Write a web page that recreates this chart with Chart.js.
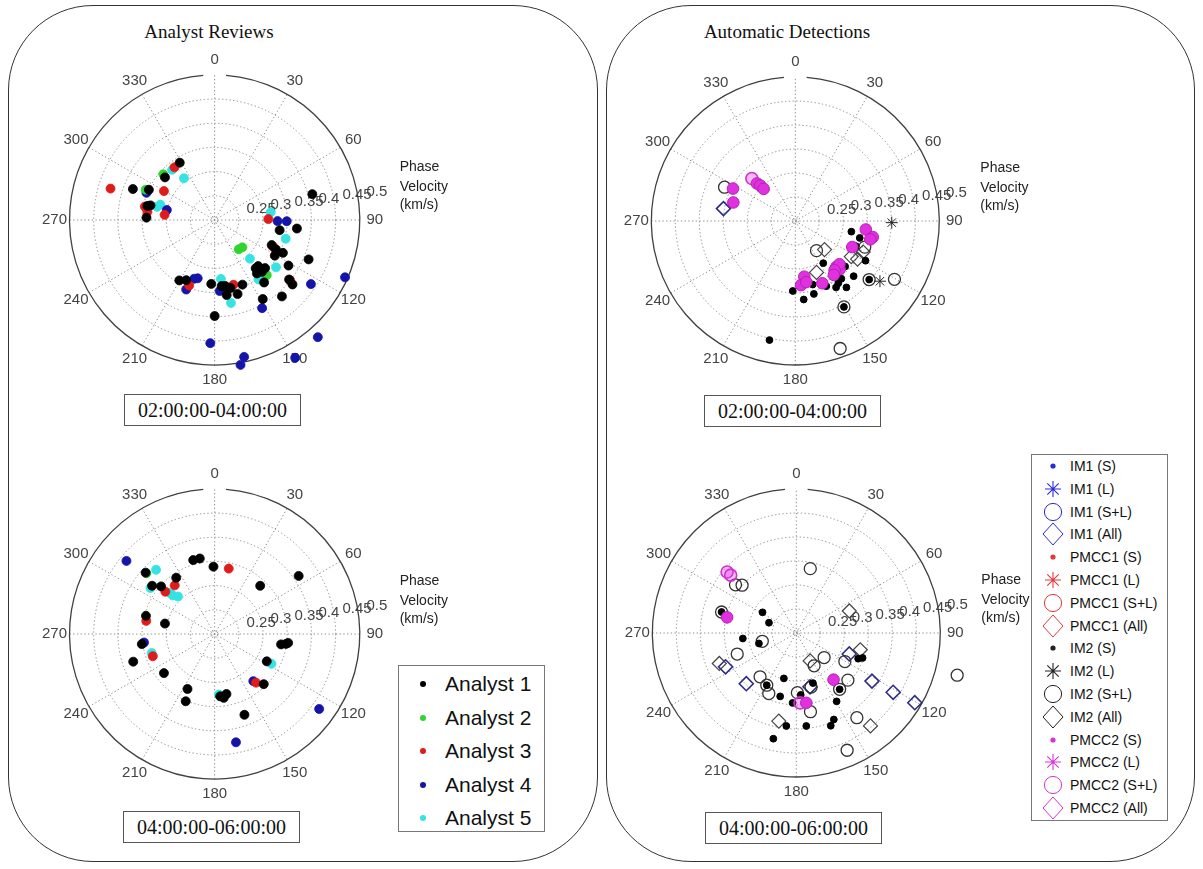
<!DOCTYPE html>
<html><head><meta charset="utf-8">
<script src="https://cdn.jsdelivr.net/npm/chart.js@4.4.1/dist/chart.umd.min.js"></script>
<style>
html,body{margin:0;padding:0;background:#fff;width:1203px;height:869px;overflow:hidden;position:relative;font-family:"Liberation Sans",Arial,sans-serif;}
.panel{position:absolute;border:1.5px solid #333;border-radius:85px;box-sizing:border-box;}
.title{position:absolute;font-family:"Liberation Serif","Times New Roman",serif;font-size:19px;color:#111;transform:translate(-50%,-50%);white-space:nowrap;}
.tbox{position:absolute;z-index:5;border:1.3px solid #555;background:#fff;font-family:"Liberation Serif","Times New Roman",serif;font-size:20px;text-align:center;box-sizing:border-box;color:#111;}
canvas{position:absolute;}
.legend{position:absolute;z-index:5;border:1.3px solid #777;background:#fff;box-sizing:border-box;}
.row{position:absolute;left:0;white-space:nowrap;}
.row svg{position:absolute;}
.row span{position:absolute;transform:translateY(-50%);color:#111;}
</style></head>
<body>
<div class="panel" style="left:8px;top:5px;width:590px;height:857px;"></div>
<div class="panel" style="left:606px;top:5px;width:589px;height:857px;"></div>
<div class="title" style="left:209px;top:32px;">Analyst Reviews</div>
<div class="title" style="left:787px;top:32px;">Automatic Detections</div>
<script>
// ---------------- data: [azimuth (deg), phase velocity (km/s)] ----------------
const V0 = 0.2, VMAX = 0.5;
const RING_VALUES = [0.25, 0.3, 0.35, 0.4, 0.45, 0.5];
const RING_LABELS = ['0.25', '0.3', '0.35', '0.4', '0.45', '0.5'];
const ANGLE_TICKS = [0, 30, 60, 90, 120, 150, 180, 210, 240, 270, 300, 330];
const AXIS_TITLE = ['Phase', 'Velocity', '(km/s)'];
const TIME_WINDOWS = ['02:00:00-04:00:00', '04:00:00-06:00:00'];
const ANALYSTS = ['Analyst 1', 'Analyst 2', 'Analyst 3', 'Analyst 4', 'Analyst 5'];
const ANALYST_COLORS = ['#000000', '#2fd42f', '#e01b1b', '#1414a8', '#35e3e3'];

// Analyst reviews, 02:00-04:00
const tl_a1 = [[329,0.340],[311,0.336],[291,0.381],[295,0.350],[282,0.342],[283,0.336],[272,0.341],[75,0.409],[99,0.336],[96,0.371],[114,0.329],[116,0.341],[121,0.345],[116,0.357],[113,0.411],[140,0.332],[137,0.332],[138,0.346],[142,0.342],[134,0.345],[122,0.380],[142,0.366],[129,0.398],[130,0.410],[139,0.412],[149,0.393],[210,0.346],[205,0.339],[183,0.334],[174,0.339],[171,0.340],[167,0.346],[157,0.347],[171,0.359],[163,0.362],[180,0.401]];
const tl_a2 = [[312,0.343],[294,0.356],[141,0.279],[135,0.281],[137,0.358]];
const tl_a3 = [[323,0.338],[287,0.425],[300,0.321],[281,0.347],[277,0.340],[276,0.304],[89,0.311],[115,0.334],[129,0.401],[201,0.347],[164,0.341]];
const tl_a4 = [[292,0.352],[282,0.301],[91,0.330],[91,0.349],[124,0.440],[114,0.495],[152,0.409],[199,0.330],[196,0.327],[202,0.357],[176,0.349],[182,0.458],[168,0.493],[170,0.508],[150,0.533],[139,0.525]];
const tl_a5 = [[320,0.337],[324,0.308],[286,0.317],[283,0.322],[82,0.317],[105,0.352],[138,0.309],[128,0.361],[144,0.354],[174,0.324],[169,0.377]];

// Analyst reviews, 04:00-06:00
const bl_a1 = [[312,0.392],[326,0.342],[308,0.364],[312,0.349],[344,0.361],[349,0.361],[359,0.341],[55,0.412],[43,0.338],[285,0.347],[282,0.305],[262,0.352],[251,0.378],[232,0.333],[99,0.339],[98,0.349],[97,0.353],[118,0.322],[136,0.346],[206,0.328],[203,0.353],[175,0.331],[172,0.335],[169,0.328],[160,0.380]];
const bl_a2 = [[312,0.390]];
const bl_a3 = [[321,0.331],[311,0.335],[12,0.340],[281,0.344],[250,0.336],[140,0.333]];
const bl_a4 = [[310,0.438],[263,0.347],[141,0.327],[126,0.467],[169,0.431]];
const bl_a5 = [[318,0.381],[306,0.364],[313,0.318],[316,0.309],[313,0.326],[253,0.336],[118,0.333],[176,0.327]];

// Automatic detections, 02:00-04:00
const tr_im2_s   = [[101,0.319],[105,0.339],[120,0.369],[147,0.307],[133,0.342],[134,0.369],[146,0.360],[143,0.377],[149,0.365],[165,0.340],[182,0.349],[174,0.368],[166,0.360],[155,0.353],[129,0.398],[151,0.409],[192,0.459],[113,0.337],[142,0.356]];
const tr_im2_sl  = [[296,0.364],[145,0.277],[129,0.398],[121,0.441],[151,0.409],[161,0.487],[111,0.355]];
const tr_im2_all = [[115,0.356],[135,0.286],[158,0.318],[123,0.339],[122,0.353]];
const tr_im2_l   = [[91,0.401],[126,0.418]];
const tr_im1_all = [[280,0.352]];
const tr_pm2_s   = [[298,0.347],[287,0.335],[315,0.313],[316,0.305],[316,0.295],[97,0.348],[102,0.365],[115,0.331],[139,0.330],[138,0.338],[135,0.330],[142,0.333],[145,0.340],[171,0.320],[175,0.337],[157,0.344],[104,0.361],[170,0.332]];
const tr_pm2_sl  = [[315,0.328]];

// Automatic detections, 04:00-06:00
const br_im2_s   = [[286,0.362],[302,0.283],[291,0.261],[264,0.312],[254,0.281],[113,0.340],[111,0.348],[143,0.350],[150,0.368],[209,0.327],[195,0.300],[194,0.339],[162,0.312],[176,0.332],[183,0.349],[186,0.399],[174,0.399],[160,0.410],[157,0.400],[192,0.430]];
const br_im2_sl  = [[12,0.340],[309,0.363],[312,0.352],[286,0.362],[256,0.273],[250,0.331],[132,0.278],[152,0.279],[121,0.318],[143,0.350],[133,0.347],[105,0.547],[219,0.320],[209,0.327],[204,0.341],[165,0.319],[179,0.327],[170,0.370],[145,0.420],[157,0.471]];
const br_im2_all = [[248,0.373],[67,0.320],[154,0.266],[105,0.338],[191,0.391],[142,0.451]];
const br_im1_all = [[244,0.364],[112,0.319],[123,0.388],[122,0.438],[121,0.488],[224,0.350],[166,0.318]];
const br_pm2_s   = [[283,0.348],[142,0.326],[172,0.350]];
const br_pm2_sl  = [[312,0.394],[312,0.384],[177,0.349]];

const DET_LABELS = ['IM1 (S)','IM1 (L)','IM1 (S+L)','IM1 (All)','PMCC1 (S)','PMCC1 (L)','PMCC1 (S+L)','PMCC1 (All)','IM2 (S)','IM2 (L)','IM2 (S+L)','IM2 (All)','PMCC2 (S)','PMCC2 (L)','PMCC2 (S+L)','PMCC2 (All)'];
const DET_COLORS = ['#2a2ad6','#e23a3a','#222222','#d435d4'];
const DET_TYPES = ['dot','star','circle','diamond'];

// ---------------- drawing ----------------
const PX_PER_UNIT = 147 / (VMAX - V0);
const HALF = 210 / PX_PER_UNIT;
const rad = d => d * Math.PI / 180;
function toXY(pairs){ return pairs.map(([az,v]) => ({x:(v-V0)*Math.sin(rad(az)), y:(v-V0)*Math.cos(rad(az))})); }

const polarGrid = {
  id:'polarGrid',
  beforeDatasetsDraw(chart){
    const {ctx, scales:{x, y}} = chart;
    const cx = x.getPixelForValue(0), cy = y.getPixelForValue(0);
    const rp = v => x.getPixelForValue(v - V0) - cx;
    const R = rp(RING_VALUES[RING_VALUES.length-1]);
    ctx.save();
    ctx.strokeStyle = '#8c8c8c'; ctx.lineWidth = 1; ctx.setLineDash([1.3, 2.4]);
    RING_VALUES.slice(0, -1).forEach(v => { ctx.beginPath(); ctx.arc(cx, cy, rp(v), 0, 2*Math.PI); ctx.stroke(); });
    ANGLE_TICKS.filter(a => a < 180).forEach(a => {
      const t = rad(a);
      ctx.beginPath();
      ctx.moveTo(cx - R*Math.sin(t), cy + R*Math.cos(t));
      ctx.lineTo(cx + R*Math.sin(t), cy - R*Math.cos(t));
      ctx.stroke();
    });
    ctx.beginPath(); ctx.arc(cx, cy, 3, 0, 2*Math.PI); ctx.stroke();
    ctx.setLineDash([]);
    ctx.strokeStyle = '#404040'; ctx.lineWidth = 1.3;
    const g = rad(4.5);
    ctx.beginPath(); ctx.arc(cx, cy, R, -Math.PI/2 + g, 1.5*Math.PI - g); ctx.stroke();
    ctx.fillStyle = '#444';
    ctx.font = '15px "Liberation Sans", Arial, sans-serif';
    ctx.textAlign = 'center'; ctx.textBaseline = 'middle';
    ANGLE_TICKS.forEach(a => { const t = rad(a); ctx.fillText(String(a), cx + (R+15)*Math.sin(t), cy - (R+15)*Math.cos(t)); });
    ctx.textAlign = 'left'; ctx.textBaseline = 'alphabetic';
    RING_VALUES.forEach((v, i) => { const r = rp(v); ctx.fillText(RING_LABELS[i], cx + r*Math.sin(rad(82)) + 8, cy - r*Math.cos(rad(82)) - 4); });
    ctx.fillStyle = '#222'; ctx.textBaseline = 'middle';
    ctx.font = '14px "Liberation Sans", Arial, sans-serif';
    [-53, -33, -15].forEach((dy, i) => ctx.fillText(AXIS_TITLE[i], cx + 185, cy + dy));
    ctx.restore();
  }
};

function ds(pairs, st){
  return {data: toXY(pairs), pointStyle: st.ps || 'circle', pointRadius: st.r, pointBackgroundColor: st.bg,
    pointBorderColor: st.bc, pointBorderWidth: st.bw || 1, showLine:false, clip:false};
}
function makePolar(cx, cy, datasets){
  const c = document.createElement('canvas');
  c.width = 500; c.height = 420;
  c.style.left = (cx - 210) + 'px'; c.style.top = (cy - 210) + 'px';
  document.body.appendChild(c);
  new Chart(c, {type:'scatter', data:{datasets},
    options:{responsive:false, animation:false, events:[], layout:{padding:{left:0, top:0, bottom:0, right:80}},
      plugins:{legend:{display:false}, tooltip:{enabled:false}},
      scales:{x:{type:'linear', min:-HALF, max:HALF, display:false}, y:{type:'linear', min:-HALF, max:HALF, display:false}}},
    plugins:[polarGrid]});
}
const analystStyle = i => ({r:4.5, bg:ANALYST_COLORS[i], bc:ANALYST_COLORS[i], bw:0.8});
makePolar(212, 220, [tl_a1, tl_a2, tl_a3, tl_a4, tl_a5].map((d, i) => ds(d, analystStyle(i))));
makePolar(212, 634, [bl_a1, bl_a2, bl_a3, bl_a4, bl_a5].map((d, i) => ds(d, analystStyle(i))));

const ST = {
  im2s:  {r:3.4, bg:'#000', bc:'#000', bw:1},
  im2sl: {r:6, bg:'rgba(0,0,0,0)', bc:'#333', bw:1.3},
  im2all:{ps:'rectRot', r:7, bg:'rgba(0,0,0,0)', bc:'#444', bw:1.2},
  im2l:  {ps:'star', r:6, bg:'rgba(0,0,0,0)', bc:'#222', bw:1},
  im1all:{ps:'rectRot', r:7, bg:'rgba(0,0,0,0)', bc:'#2b2b85', bw:1.6},
  pm2s:  {r:5.8, bg:'#e030e0', bc:'#b51fb5', bw:1},
  pm2sl: {r:6, bg:'rgba(230,60,230,0.35)', bc:'#d030d0', bw:1.6}
};
makePolar(791, 221, [ds(tr_pm2_s, ST.pm2s), ds(tr_pm2_sl, ST.pm2sl), ds(tr_im2_l, ST.im2l), ds(tr_im2_s, ST.im2s), ds(tr_im2_sl, ST.im2sl), ds(tr_im2_all, ST.im2all), ds(tr_im1_all, ST.im1all)]);
makePolar(792, 633, [ds(br_pm2_s, ST.pm2s), ds(br_pm2_sl, ST.pm2sl), ds(br_im2_s, ST.im2s), ds(br_im2_sl, ST.im2sl), ds(br_im2_all, ST.im2all), ds(br_im1_all, ST.im1all)]);

// time boxes
[[124,394],[123,811],[704,395],[705,812]].forEach(([l,t], i) => {
  const d = document.createElement('div'); d.className = 'tbox';
  d.style.cssText = `left:${l}px;top:${t}px;width:177px;height:32px;line-height:30px;`;
  d.textContent = TIME_WINDOWS[i % 2];
  document.body.appendChild(d);
});

// legends
function svgMarker(type, color){
  let inner = '';
  if (type === 'bigdot') inner = `<circle cx="12" cy="12" r="3" fill="${color}"/>`;
  if (type === 'dot') inner = `<circle cx="12" cy="12" r="2.6" fill="${color}"/>`;
  if (type === 'star') inner = `<path d="M12 4V20M4 12H20M6.3 6.3L17.7 17.7M17.7 6.3L6.3 17.7" stroke="${color}" stroke-width="1.1" fill="none"/>`;
  if (type === 'circle') inner = `<circle cx="12" cy="12" r="8.6" stroke="${color}" stroke-width="1" fill="none"/>`;
  if (type === 'diamond') inner = `<path d="M12 1L22 12L12 23L2 12Z" stroke="${color}" stroke-width="1" fill="none"/>`;
  return `<svg width="24" height="24" viewBox="0 0 24 24">${inner}</svg>`;
}
function legend(left, top, w, h, labels, colorsOf, typeOf, y0, dy, mx, tx, fs){
  const L = document.createElement('div'); L.className = 'legend';
  L.style.cssText = `left:${left}px;top:${top}px;width:${w}px;height:${h}px;`;
  labels.forEach((lab, i) => {
    const r = document.createElement('div'); r.className = 'row';
    const y = y0 + i*dy;
    r.innerHTML = `<div style="position:absolute;left:${mx-12}px;top:${y-12}px;width:24px;height:24px;">${svgMarker(typeOf(i), colorsOf(i))}</div>` +
      `<span style="left:${tx}px;top:${y}px;font-size:${fs}px;">${lab}</span>`;
    L.appendChild(r);
  });
  document.body.appendChild(L);
}
legend(398, 665, 147, 167, ANALYSTS, i => ANALYST_COLORS[i], () => 'bigdot', 18, 33.5, 24, 46, 21);
legend(1031, 454, 137, 367, DET_LABELS, i => DET_COLORS[Math.floor(i/4)], i => DET_TYPES[i%4], 11, 22.8, 21, 38, 14);
</script>
</body></html>
